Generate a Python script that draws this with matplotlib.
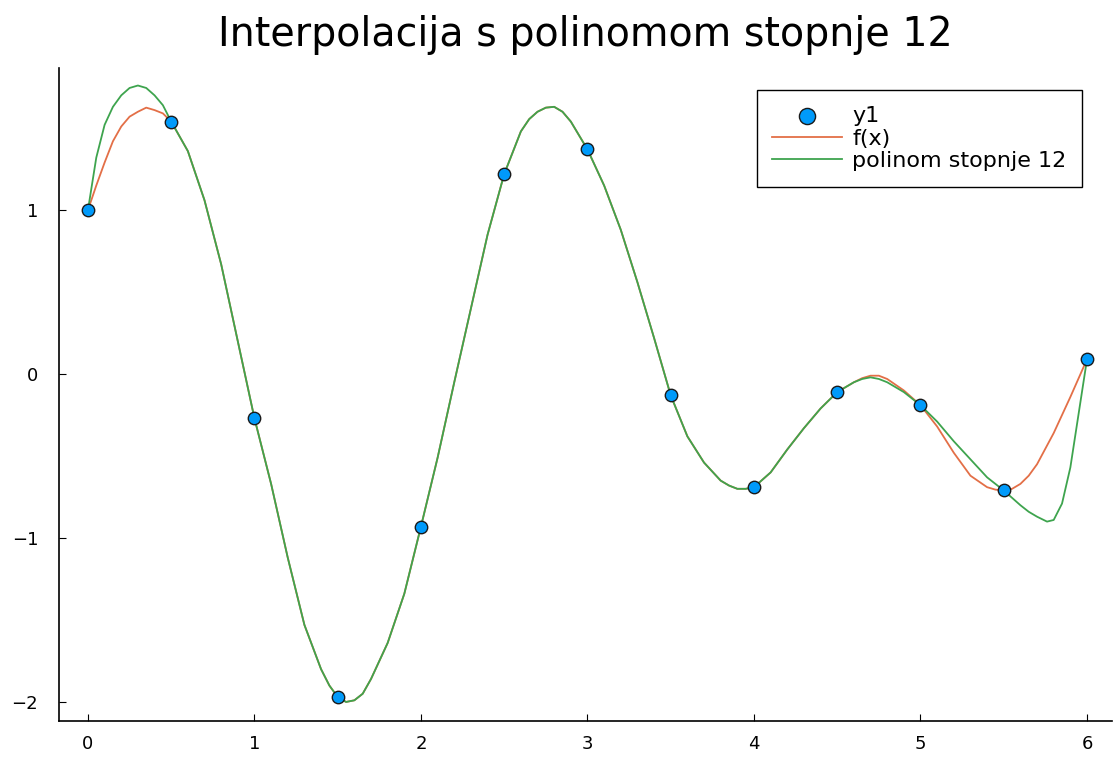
import matplotlib
matplotlib.use("Agg")
import matplotlib.pyplot as plt

# data points (y1)
pts_x = [0.0, 0.5, 1.0, 1.5, 2.0, 2.5, 3.0, 3.5, 4.0, 4.5, 5.0, 5.5, 6.0]
pts_y = [1.00, 1.54, -0.27, -1.97, -0.93, 1.22, 1.37, -0.13, -0.69, -0.11, -0.19, -0.71, 0.09]

# f(x)
f_x = [0.0, 0.05, 0.1, 0.15, 0.2, 0.25, 0.3, 0.35, 0.4, 0.45, 0.5, 0.6, 0.7, 0.8, 0.9, 1.0,
       1.1, 1.2, 1.3, 1.4, 1.45, 1.5, 1.55, 1.6, 1.65, 1.7, 1.8, 1.9, 2.0,
       2.1, 2.2, 2.3, 2.4, 2.5, 2.6, 2.65, 2.7, 2.75, 2.8, 2.85, 2.9, 3.0,
       3.1, 3.2, 3.3, 3.4, 3.5, 3.6, 3.7, 3.8, 3.85, 3.9, 3.95, 4.0,
       4.1, 4.2, 4.3, 4.4, 4.5, 4.6, 4.65, 4.7, 4.75, 4.8, 4.9, 5.0,
       5.1, 5.2, 5.3, 5.4, 5.45, 5.5, 5.55, 5.6, 5.65, 5.7, 5.8, 5.9, 6.0]
f_y = [1.00, 1.15, 1.29, 1.42, 1.51, 1.57, 1.60, 1.625, 1.61, 1.59, 1.54, 1.36, 1.06, 0.67, 0.20, -0.27,
       -0.67, -1.12, -1.53, -1.80, -1.90, -1.97, -2.00, -1.99, -1.95, -1.86, -1.64, -1.34, -0.93,
       -0.51, -0.05, 0.40, 0.85, 1.22, 1.48, 1.555, 1.60, 1.625, 1.63, 1.60, 1.54, 1.37,
       1.15, 0.88, 0.56, 0.22, -0.13, -0.38, -0.54, -0.65, -0.68, -0.70, -0.70, -0.69,
       -0.60, -0.46, -0.33, -0.21, -0.11, -0.05, -0.025, -0.01, -0.01, -0.03, -0.10, -0.19,
       -0.32, -0.48, -0.62, -0.69, -0.705, -0.71, -0.70, -0.67, -0.62, -0.55, -0.36, -0.14, 0.09]

# degree-12 polynomial
p_x = [0.0, 0.05, 0.1, 0.15, 0.2, 0.25, 0.3, 0.35, 0.4, 0.45, 0.5, 0.6, 0.7, 0.8, 0.9, 1.0,
       1.1, 1.2, 1.3, 1.4, 1.45, 1.5, 1.55, 1.6, 1.65, 1.7, 1.8, 1.9, 2.0,
       2.1, 2.2, 2.3, 2.4, 2.5, 2.6, 2.65, 2.7, 2.75, 2.8, 2.85, 2.9, 3.0,
       3.1, 3.2, 3.3, 3.4, 3.5, 3.6, 3.7, 3.8, 3.85, 3.9, 3.95, 4.0,
       4.1, 4.2, 4.3, 4.4, 4.5, 4.6, 4.65, 4.7, 4.75, 4.8, 4.9, 5.0,
       5.1, 5.2, 5.3, 5.4, 5.5, 5.6, 5.65, 5.7, 5.76, 5.8, 5.85, 5.9, 5.95, 6.0]
p_y = [1.00, 1.32, 1.52, 1.63, 1.70, 1.745, 1.76, 1.745, 1.70, 1.64, 1.54, 1.36, 1.06, 0.67, 0.20, -0.27,
       -0.67, -1.12, -1.53, -1.80, -1.90, -1.97, -2.00, -1.99, -1.95, -1.86, -1.64, -1.34, -0.93,
       -0.51, -0.05, 0.40, 0.85, 1.22, 1.48, 1.555, 1.60, 1.625, 1.63, 1.60, 1.54, 1.37,
       1.15, 0.88, 0.56, 0.22, -0.13, -0.38, -0.54, -0.65, -0.68, -0.70, -0.70, -0.69,
       -0.60, -0.46, -0.33, -0.21, -0.11, -0.05, -0.03, -0.02, -0.03, -0.05, -0.11, -0.19,
       -0.29, -0.41, -0.52, -0.63, -0.71, -0.80, -0.84, -0.87, -0.90, -0.89, -0.79, -0.57, -0.24, 0.09]

x_ticks = [0, 1, 2, 3, 4, 5, 6]
y_ticks = [-2, -1, 0, 1]

fig = plt.figure(figsize=(11.17, 7.57), dpi=100)
ax = fig.add_axes([0.0528, 0.0476, 0.9427, 0.8624])

ax.plot(f_x, f_y, color="#E36F47", lw=1.3, label="f(x)", zorder=2)
ax.plot(p_x, p_y, color="#3EA44E", lw=1.3, label="polinom stopnje 12", zorder=3)
ax.scatter(pts_x, pts_y, s=80, color="#009AFA", edgecolors="#1a1a1a",
           linewidths=1.0, label="y1", zorder=4)

ax.set_xlim(-0.174, 6.15)
ax.set_ylim(-2.116, 1.866)
ax.set_xticks(x_ticks)
ax.set_yticks(y_ticks)
ax.set_yticklabels([str(v).replace("-", "\u2212") for v in y_ticks])
ax.tick_params(direction="in", length=5, labelsize=13, colors="#000000")
ax.tick_params(axis="y", pad=15)
ax.tick_params(axis="x", pad=10)
for s in ["top", "right"]:
    ax.spines[s].set_visible(False)
for s in ["left", "bottom"]:
    ax.spines[s].set_linewidth(1.2)

ax.set_title("Interpolacija s polinomom stopnje 12", fontsize=28.5, pad=16)

h, l = ax.get_legend_handles_labels()
order = [2, 0, 1]
leg = ax.legend([h[i] for i in order], [l[i] for i in order], loc="upper right",
                bbox_to_anchor=(0.9715, 0.966), borderaxespad=0.0, fontsize=16,
                frameon=True, fancybox=False, edgecolor="#000000", framealpha=1,
                labelspacing=0.12, handlelength=3.15, handletextpad=0.45,
                borderpad=0.7, markerscale=1.3)
leg.get_frame().set_linewidth(1.0)

fig.savefig("out.png", dpi=100)
